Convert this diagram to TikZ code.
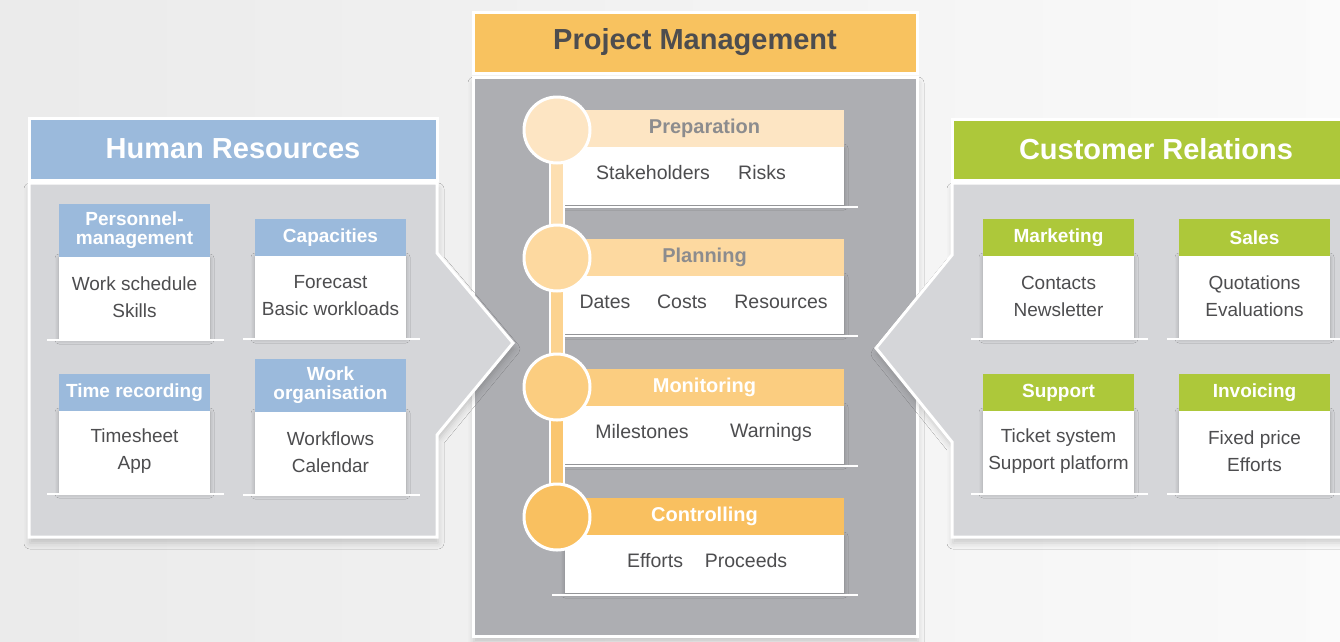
\documentclass[tikz,border=0pt]{standalone}
\usepackage{fontspec}
\setmainfont{Liberation Sans}
\usetikzlibrary{shadows.blur}
\definecolor{hrblue}{HTML}{9BBADC}
\definecolor{crgreen}{HTML}{ADC83A}
\definecolor{pmorange}{HTML}{F8C25F}
\definecolor{panelgray}{HTML}{D5D6D9}
\definecolor{midgray}{HTML}{ADAEB2}
\definecolor{txt}{HTML}{4D4D4F}
\definecolor{headgray}{HTML}{8C8C8E}
\definecolor{ora1}{HTML}{FDE5C3}
\definecolor{ora2}{HTML}{FDD9A0}
\definecolor{ora3}{HTML}{FBCD80}
\definecolor{ora4}{HTML}{F9C060}
\tikzset{
  panelline/.style={draw=white, line width=3pt},
  panelshadow/.style={blur shadow={shadow xshift=1pt, shadow yshift=-6pt, shadow blur radius=6pt, shadow opacity=18}},
  boxshadow/.style={blur shadow={shadow xshift=0pt, shadow yshift=-1pt, shadow blur radius=4pt, shadow opacity=25}},
  bigtitle/.style={font=\bfseries\fontsize{29}{31}\selectfont, text=white, inner sep=0pt},
  subhead/.style={font=\bfseries\fontsize{19}{19}\selectfont, text=white, align=center, inner sep=0pt},
  bodytext/.style={font=\fontsize{19}{27}\selectfont, text=txt, align=center, inner sep=0pt},
  stagehead/.style={font=\bfseries\fontsize{20}{22}\selectfont, inner sep=0pt},
  stagetext/.style={font=\fontsize{19.5}{22}\selectfont, text=txt, inner sep=0pt},
  shelf/.style={draw=white, line width=2.5pt},
  stagecircle/.style={circle, draw=white, line width=3pt, minimum size=66pt, inner sep=0pt},
}
% #1 name, #2 x left, #3 head top, #4 head bottom, #5 colour, #6 title, #7 body
\newcommand\subbox[7]{%
  \fill[white, boxshadow] (#2,#4) rectangle (#2+151,#4+82);
  \fill[#5] (#2,#3) rectangle (#2+151,#4);
  \draw[shelf] (#2-12,#4+83) -- (#2+165,#4+83);
  \node[subhead] (#1-h) at (#2+75.5,{(#3+#4)/2}) {#6};
  \node[bodytext] (#1-b) at (#2+75.5,#4+40) {#7};
}
% #1 name, #2 head top, #3 colour, #4 title, #5 title colour
\newcommand\stagebox[5]{%
  \fill[white, boxshadow] (565,#2+37) rectangle (844,#2+95);
  \fill[#3] (565,#2) rectangle (844,#2+37);
  \node[stagehead, text=#5] (#1) at (704.5,#2+18.5) {#4};
}
\begin{document}
\begin{tikzpicture}[x=1pt,y=-1pt]
\useasboundingbox (0,0) rectangle (1340,641);
\fill[left color=black!8, right color=black!2] (0,0) rectangle (1340,641);

% ---------- middle panel ----------
\fill[midgray, panelline, panelshadow] (473,77) rectangle (917,636);
\fill[pmorange, panelline] (473,12) rectangle (917,73);
\node[bigtitle, text=txt] (pm) at (695,42) {Project Management};

\stagebox{prep}{110}{ora1}{Preparation}{headgray}
\stagebox{plan}{239}{ora2}{Planning}{headgray}
\stagebox{moni}{369}{ora3}{Monitoring}{white}
\stagebox{ctrl}{498}{ora4}{Controlling}{white}
\draw[shelf] (565,207) -- (858,207);
\draw[shelf] (565,336) -- (858,336);
\draw[shelf] (565,466) -- (858,466);
\draw[shelf] (552,595) -- (858,595);

\node[stagetext] (stake) at (653,173) {Stakeholders};
\node[stagetext] (risks) at (762,173) {Risks};
\node[stagetext] (dates) at (605,302) {Dates};
\node[stagetext] (costs) at (682,302) {Costs};
\node[stagetext] (resou) at (781,302) {Resources};
\node[stagetext] (miles) at (642,432) {Milestones};
\node[stagetext] (warn) at (771,432) {Warnings};
\node[stagetext] (effo) at (655,561) {Efforts};
\node[stagetext] (proc) at (746,561) {Proceeds};

\coordinate (c1) at (557,130);
\coordinate (c2) at (557,258);
\coordinate (c3) at (557,387);
\coordinate (c4) at (557,517);
\draw[white, line width=16pt] (c1) -- (c4);
\draw[ora1!50!ora2, line width=12pt] (c1) -- (c2);
\draw[ora2!50!ora3, line width=12pt] (c2) -- (c3);
\draw[ora3!50!ora4, line width=12pt] (c3) -- (c4);
\node[stagecircle, fill=ora1] (k1) at (c1) {};
\node[stagecircle, fill=ora2] (k2) at (c2) {};
\node[stagecircle, fill=ora3] (k3) at (c3) {};
\node[stagecircle, fill=ora4] (k4) at (c4) {};

% ---------- Human Resources ----------
\fill[panelgray, panelline, panelshadow] (29,183) -- (437,183) -- (437,253) -- (513,343) -- (437,435) -- (437,537) -- (29,537) -- cycle;
\fill[hrblue, panelline] (29,118) rectangle (437,180);
\node[bigtitle] (hr) at (233,149) {Human Resources};
\subbox{pers}{59}{204}{257}{hrblue}{Personnel-\\management}{Work schedule\\Skills}
\subbox{cap}{255}{219}{256}{hrblue}{Capacities}{Forecast\\Basic workloads}
\subbox{time}{59}{374}{411}{hrblue}{Time recording}{Timesheet\\App}
\subbox{work}{255}{359}{412}{hrblue}{Work\\organisation}{Workflows\\Calendar}

% ---------- Customer Relations ----------
\fill[panelgray, panelline, panelshadow] (1348,183) -- (952,183) -- (952,255) -- (876,348) -- (952,442) -- (952,537) -- (1348,537) -- cycle;
\fill[crgreen, panelline] (952,119) rectangle (1348,180);
\node[bigtitle] (cr) at (1156,149) {Customer Relations};
\subbox{mark}{983}{219}{256}{crgreen}{Marketing}{Contacts\\Newsletter}
\subbox{sales}{1179}{219}{256}{crgreen}{Sales}{Quotations\\Evaluations}
\subbox{supp}{983}{374}{411}{crgreen}{Support}{Ticket system\\Support platform}
\subbox{inv}{1179}{374}{411}{crgreen}{Invoicing}{Fixed price\\Efforts}
\end{tikzpicture}
\end{document}
